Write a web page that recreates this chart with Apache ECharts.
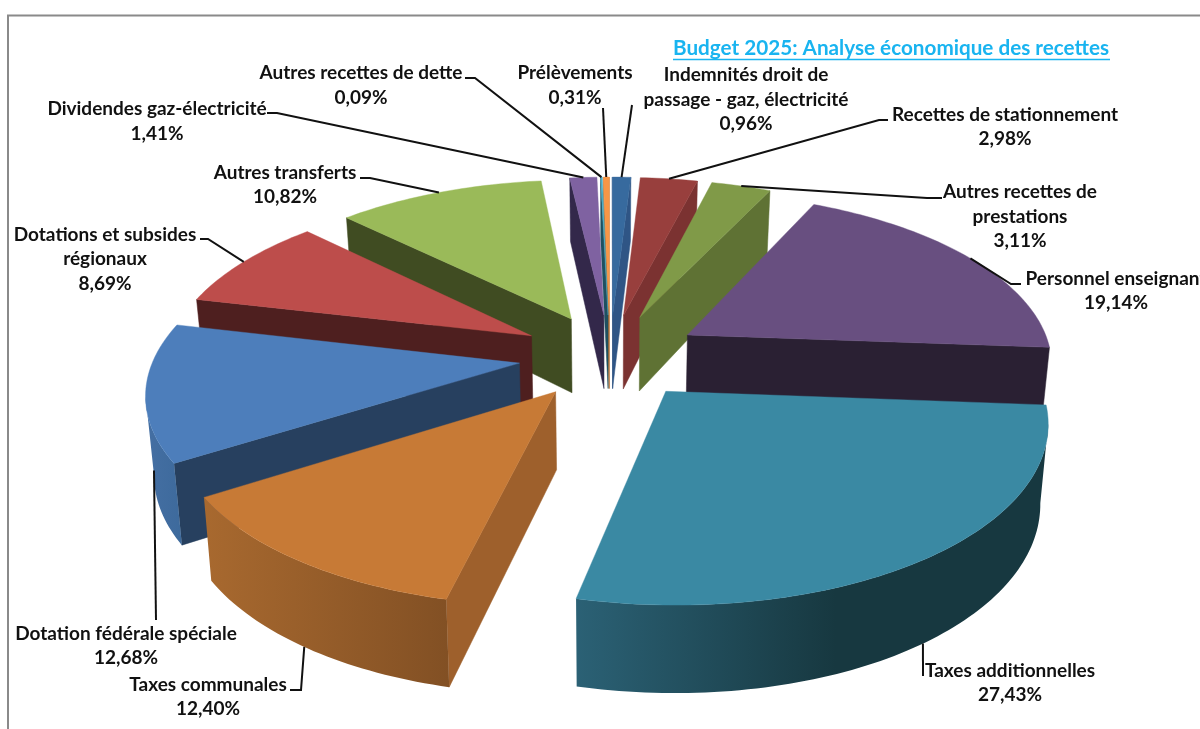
<!DOCTYPE html>
<html><head><meta charset="utf-8"><style>html,body{margin:0;padding:0;background:#fff}#c{width:1200px;height:729px}</style>
<script src="https://cdn.jsdelivr.net/npm/echarts@6/dist/echarts.min.js"></script></head>
<body><div id="c"></div><script>
const titleText = 'Budget 2025: Analyse économique des recettes';
const categories = ['Indemnités droit de\npassage - gaz, électricité','Recettes de stationnement','Autres recettes de\nprestations','Personnel enseignant','Taxes additionnelles','Taxes communales','Dotation fédérale spéciale','Dotations et subsides\nrégionaux','Autres transferts','Dividendes gaz-électricité','Autres recettes de dette','Prélèvements'];
const values = [0.96,2.98,3.11,19.14,27.43,12.40,12.68,8.69,10.82,1.41,0.09,0.31];
const topColors = ['#376A9E','#983F3D','#809A48','#684F80','#3A89A3','#C77A36','#4D7EBB','#BD4D4B','#9ABA59','#7F62A1','#4BACC6','#F79646'];
const radialColors = ['#2F5585','#7B3231','#5F7234','#2A2033','#1F4A58','#9E602C','#27405F','#4E1F1F','#404C22','#33284A','#1F5060','#B86F30'];
const outerLeft = ['#2F5585','#7B3231','#5F7234','#2A2033','#2B6175','#A8692F','#456FA3','#4E1F1F','#404C22','#33284A','#1F5060','#B86F30'];
const outerRight = ['#2F5585','#7B3231','#5F7234','#2A2033','#173840','#825024','#3D6A9C','#4E1F1F','#404C22','#33284A','#1F5060','#B86F30'];
// label layout: centre x, centre y of the text block
const labelCx = [746,1005,1020,1116,1010,208,126,105,285,157,361,575];
const labelCy = [99.5,127,216.5,291,683,697,646,259,185,121.5,85.5,85.5];
// leader elbows: [label-side point, bend]
const leaderStart = [[632,105],[888,120],[942,198],[1021,284],[923,676],[290,690],[156,620],[200,239],[360,178],[267,113],[465,78],[603,108]];
const leaderBend = [null,[879,120],[927,198],[1011,284],null,[301,690],null,[208,239],[370,178],[277,113],[475,78],null];

const cx=610, cy=356, Rx=365, Ry=170, persp=0.15, perspX=0.15, explode=0.25;
const total = values.reduce((a,b)=>a+b,0);
const fmt = v => v.toFixed(2).replace('.',',')+'%';
function proj(x,y){return [cx+Rx*x/(1-perspX*y), cy+Ry*y/(1-persp*y)];}
function projB(x,y){const p=proj(x,y);return [p[0]-(p[0]-cx)*0.018, p[1]+76+10*y];}
const slices=[];let acc=0;
values.forEach((v,i)=>{const a0=acc/total*2*Math.PI;acc+=v;const a1=acc/total*2*Math.PI;const m=(a0+a1)/2;
  slices.push({i,a0,a1,m,ex:Math.sin(m)*explode,ey:-Math.cos(m)*explode});});
const order=slices.slice().sort((a,b)=>(a.ey-Math.cos(a.m)*0.6)-(b.ey-Math.cos(b.m)*0.6)).map(s=>s.i);

function renderSlice(params,api){
  const i=api.value(0), S=slices[i], rank=order.indexOf(i), ch=[];
  const n=Math.max(2,Math.ceil((S.a1-S.a0)/0.02));
  const world=[];for(let k=0;k<=n;k++){const a=S.a0+(S.a1-S.a0)*k/n;world.push([S.ex+Math.sin(a),S.ey-Math.cos(a)]);}
  const apex=[S.ex,S.ey];
  const top=[proj(apex[0],apex[1])].concat(world.map(w=>proj(w[0],w[1])));
  const quad=(A,B)=>[proj(A[0],A[1]),proj(B[0],B[1]),projB(B[0],B[1]),projB(A[0],A[1])];
  // radial walls
  const rs=[[apex,world[0]],[world[n],apex]];
  rs.forEach(e=>{if(proj(e[1][0],e[1][1])[0]<proj(e[0][0],e[0][1])[0]-0.01)
    ch.push({type:'polygon',z2:rank*10,shape:{points:quad(e[0],e[1])},style:{fill:radialColors[i],stroke:radialColors[i],lineWidth:0.5},silent:true});});
  // outer wall: contiguous runs that face the viewer
  let run=[];const flush=()=>{if(run.length>1){
      const t=run.map(w=>proj(w[0],w[1])),b=run.map(w=>projB(w[0],w[1])).reverse();
      const fill={type:'linear',x:0,y:0,x2:1,y2:0,colorStops:[{offset:0,color:outerLeft[i]},{offset:i===4?0.55:1,color:outerRight[i]},{offset:1,color:outerRight[i]}]};
      ch.push({type:'polygon',z2:rank*10,shape:{points:t.concat(b)},style:{fill},silent:true});}
    run=[];};
  for(let k=0;k<n;k++){const p=proj(world[k][0],world[k][1]),q=proj(world[k+1][0],world[k+1][1]);
    if(q[0]<p[0]){if(!run.length)run.push(world[k]);run.push(world[k+1]);}else flush();}
  flush();
  ch.push({type:'polygon',z2:rank*10+1,shape:{points:top},style:{fill:topColors[i],stroke:topColors[i],lineWidth:0.4},silent:true});
  // leader line ends on the middle of the arc (bottom edge for slices facing the viewer)
  const mx=S.ex+Math.sin(S.m),my=S.ey-Math.cos(S.m);
  const end=my>0?projB(mx,my):proj(mx,my);
  const pts=[leaderStart[i]];if(leaderBend[i])pts.push(leaderBend[i]);pts.push(end);
  ch.push({type:'polyline',z2:500,shape:{points:pts},style:{stroke:'#111',lineWidth:2,fill:null},silent:true});
  ch.push({type:'text',z2:600,x:labelCx[i],y:labelCy[i],silent:true,style:{text:categories[i]+'\n'+fmt(values[i]),align:'center',verticalAlign:'middle',fontFamily:'Lato',fontWeight:'bold',fontSize:19,lineHeight:24.6,fill:'#111'}});
  return {type:'group',children:ch};
}
const chart=echarts.init(document.getElementById('c'),null,{renderer:'canvas'});
chart.setOption({animation:false,backgroundColor:'#fff',
  graphic:[
   {type:'polyline',shape:{points:[[8,729],[8,15.5],[1200,15.5]]},style:{stroke:'#8a8a8a',lineWidth:2,fill:null},silent:true},
   {type:'text',x:673,y:38,style:{text:titleText,fontFamily:'Lato',fontWeight:'bold',fontSize:20.7,fill:'#19B4F0'},silent:true},
   {type:'line',shape:{x1:673,y1:59.5,x2:1110,y2:59.5},style:{stroke:'#19B4F0',lineWidth:1.4},silent:true}
  ],
  series:[{type:'custom',coordinateSystem:'none',renderItem:renderSlice,data:values.map((v,i)=>({name:categories[i],value:[i,v]})),encode:{value:1}}]
});
</script></body></html>
